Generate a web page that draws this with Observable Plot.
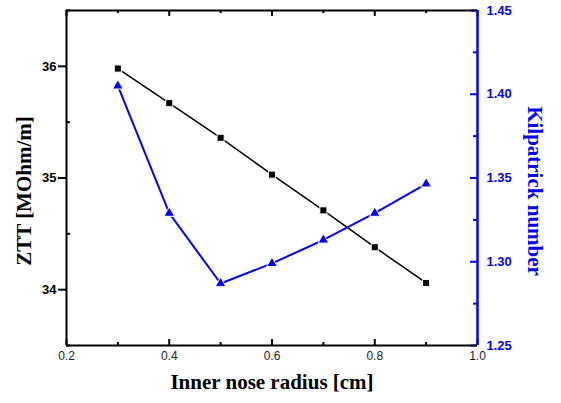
<!DOCTYPE html>
<html><head><meta charset="utf-8">
<script src="https://cdn.jsdelivr.net/npm/d3@7"></script>
<script src="https://cdn.jsdelivr.net/npm/@observablehq/plot@0.6"></script>
<style>body{margin:0;background:#fff}</style>
</head><body><div id="chart"></div>
<script>
const radius = [0.3, 0.4, 0.5, 0.6, 0.7, 0.8, 0.9];
const ztt = [35.98, 35.67, 35.36, 35.03, 34.71, 34.38, 34.06];
const kilpatrick = [1.405, 1.329, 1.287, 1.299, 1.313, 1.329, 1.3465];
const xDomain = [0.2, 1.0];
const yDomain = [33.5, 36.5];
const kDomain = [1.25, 1.45];
const xTicks = [0.2, 0.4, 0.6, 0.8, 1.0];
const xMinor = [0.3, 0.5, 0.7, 0.9];
const yTicks = [34, 35, 36];
const yMinor = [33.5, 34.5, 35.5, 36.5];
const kTicks = [1.25, 1.30, 1.35, 1.40, 1.45];
const kMinor = [1.275, 1.325, 1.375, 1.425];
const xTitle = "Inner nose radius [cm]";
const yTitle = "ZTT [MOhm/m]";
const kTitle = "Kilpatrick number";

const W = 561, H = 403, mL = 66, mR = 84, mT = 10, mB = 58;
const plotW = W - mL - mR, plotH = H - mT - mB;
const toY = k => yDomain[0] + (k - kDomain[0]) * (yDomain[1] - yDomain[0]) / (kDomain[1] - kDomain[0]);
const fromY = y => kDomain[0] + (y - yDomain[0]) * (kDomain[1] - kDomain[0]) / (yDomain[1] - yDomain[0]);

const zData = radius.map((r, i) => ({r, v: ztt[i]}));
const kData = radius.map((r, i) => ({r, v: toY(kilpatrick[i])}));
const blue = "#0000ff";
const sans = "'Liberation Sans', Arial, sans-serif";
const serif = "'Liberation Serif', 'Times New Roman', serif";

const chart = Plot.plot({
  width: W, height: H,
  marginLeft: mL, marginRight: mR, marginTop: mT, marginBottom: mB,
  x: {domain: xDomain},
  y: {domain: yDomain},
  style: {fontFamily: sans, background: "#fff"},
  marks: [
    Plot.axisX({ticks: xTicks, tickFormat: d3.format(".1f"), tickSize: 0, tickPadding: 6, label: null, fontSize: 12, color: "#222"}),
    Plot.tickX(xTicks, {x: d => d, insetTop: plotH - 6, stroke: "#000", strokeWidth: 2}),
    Plot.tickX(xMinor, {x: d => d, insetTop: plotH - 3, stroke: "#000", strokeWidth: 2}),
    Plot.tickX(xTicks, {x: d => d, insetBottom: plotH - 6, stroke: "#000", strokeWidth: 2}),
    Plot.tickX(xMinor, {x: d => d, insetBottom: plotH - 3, stroke: "#000", strokeWidth: 2}),
    Plot.axisY({ticks: yTicks, tickFormat: d3.format("d"), tickSize: 8, tickPadding: 2, label: null, fontSize: 13, fontWeight: "bold", color: "#000", strokeWidth: 2}),
    Plot.tickY(yMinor, {y: d => d, insetRight: plotW - 4, stroke: "#000", strokeWidth: 2}),
    Plot.axisY({anchor: "right", ticks: kTicks.map(toY), tickFormat: d => d3.format(".2f")(fromY(d)), tickSize: 0, tickPadding: 9, label: null, fontSize: 13, fontWeight: "bold", color: blue}),
    Plot.tickY(kTicks.map(toY), {y: d => d, insetLeft: plotW - 7, stroke: blue, strokeWidth: 2}),
    Plot.tickY(kMinor.map(toY), {y: d => d, insetLeft: plotW - 4, stroke: blue, strokeWidth: 2}),
    Plot.ruleY([yDomain[1]], {stroke: "#000", strokeWidth: 2}),
    Plot.ruleY([yDomain[0]], {stroke: "#000", strokeWidth: 2}),
    Plot.ruleX([xDomain[0]], {stroke: "#000", strokeWidth: 2}),
    Plot.ruleX([xDomain[1]], {stroke: blue, strokeWidth: 2.5}),
    Plot.line(zData, {x: "r", y: "v", stroke: "#000", strokeWidth: 1.5}),
    Plot.dot(zData, {x: "r", y: "v", symbol: "square", r: 4, fill: "#000", stroke: "#fff", strokeWidth: 1}),
    Plot.line(kData, {x: "r", y: "v", stroke: blue, strokeWidth: 2}),
    Plot.dot(kData, {x: "r", y: "v", symbol: "triangle", r: 4, fill: blue, stroke: "#fff", strokeWidth: 1}),
    Plot.text([xTitle], {frameAnchor: "bottom", dy: 43, textAnchor: "middle", text: d => d, fontFamily: serif, fontWeight: "bold", fontSize: 21, fill: "#000"}),
    Plot.text([yTitle], {frameAnchor: "left", dx: -42, dy: 13, textAnchor: "middle", rotate: -90, text: d => d, fontFamily: serif, fontWeight: "bold", fontSize: 21, fill: "#000"}),
    Plot.text([kTitle], {frameAnchor: "right", dx: 57, dy: 13, textAnchor: "middle", rotate: 90, text: d => d, fontFamily: serif, fontWeight: "bold", fontSize: 21, fill: blue})
  ]
});
document.getElementById("chart").appendChild(chart);
</script></body></html>
